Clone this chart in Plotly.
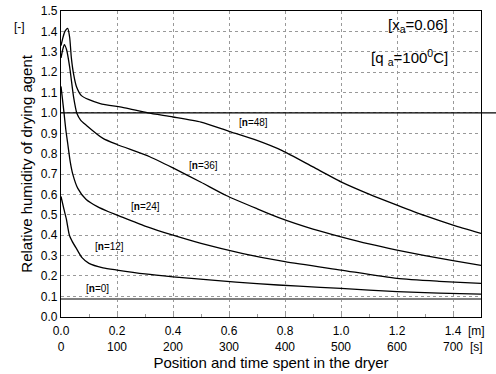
import plotly.graph_objects as go

# ---- data ----
x_n48 = [0, 0.007, 0.014, 0.024, 0.031, 0.037, 0.045, 0.055, 0.073, 0.1, 0.14, 0.228, 0.31, 0.4, 0.5, 0.6, 0.7, 0.79, 0.9, 1.0, 1.1, 1.2, 1.3, 1.4, 1.5]
y_n48 = [1.33, 1.37, 1.40, 1.415, 1.37, 1.27, 1.19, 1.13, 1.085, 1.065, 1.046, 1.025, 1.0, 0.98, 0.955, 0.91, 0.865, 0.815, 0.735, 0.662, 0.602, 0.548, 0.496, 0.45, 0.409]

x_n36 = [0, 0.006, 0.012, 0.02, 0.031, 0.045, 0.057, 0.07, 0.09, 0.15, 0.2, 0.317, 0.4, 0.5, 0.59, 0.7, 0.78, 0.9, 1.0, 1.1, 1.2, 1.3, 1.4, 1.5]
y_n36 = [1.27, 1.31, 1.335, 1.31, 1.225, 1.078, 0.997, 0.965, 0.94, 0.875, 0.845, 0.785, 0.73, 0.66, 0.595, 0.53, 0.485, 0.43, 0.392, 0.357, 0.327, 0.30, 0.275, 0.252]

x_n24 = [0, 0.005, 0.01, 0.017, 0.024, 0.033, 0.042, 0.06, 0.09, 0.13, 0.17, 0.2, 0.3, 0.4, 0.5, 0.65, 0.8, 1.0, 1.2, 1.35, 1.5]
y_n24 = [1.13, 1.07, 1.01, 0.92, 0.85, 0.76, 0.70, 0.63, 0.575, 0.54, 0.515, 0.499, 0.445, 0.40, 0.36, 0.31, 0.27, 0.229, 0.188, 0.174, 0.164]

x_n12 = [0, 0.01, 0.019, 0.03, 0.04, 0.055, 0.075, 0.1, 0.15, 0.2, 0.3, 0.4, 0.55, 0.7, 0.85, 1.0, 1.2, 1.35, 1.5]
y_n12 = [0.59, 0.53, 0.48, 0.40, 0.37, 0.335, 0.29, 0.262, 0.24, 0.229, 0.21, 0.196, 0.178, 0.162, 0.15, 0.139, 0.123, 0.116, 0.111]

x_n0 = [0, 1.5]
y_n0 = [0.087, 0.087]

m_ticks = [0, 0.2, 0.4, 0.6, 0.8, 1.0, 1.2, 1.4]
m_labels = ["0.0", "0.2", "0.4", "0.6", "0.8", "1.0", "1.2", "1.4"]
s_ticks = [0, 100, 200, 300, 400, 500, 600, 700]
s_labels = ["0", "100", "200", "300", "400", "500", "600", "700"]

labels = ["[<b>n</b>=48]", "[<b>n</b>=36]", "[<b>n</b>=24]", "[<b>n</b>=12]", "[<b>n</b>=0]"]
label_x = [0.686, 0.51, 0.301, 0.174, 0.129]
label_y = [0.951, 0.744, 0.543, 0.343, 0.139]

FONT = "Liberation Sans, Arial, sans-serif"

fig = go.Figure()
for xs, ys in [(x_n48, y_n48), (x_n36, y_n36), (x_n24, y_n24), (x_n12, y_n12)]:
    fig.add_trace(go.Scatter(x=xs, y=ys, mode="lines",
                             line=dict(color="black", width=1.3, shape="spline", smoothing=0.6),
                             showlegend=False, hoverinfo="skip"))
fig.add_trace(go.Scatter(x=x_n0, y=y_n0, mode="lines",
                         line=dict(color="#7f7f7f", width=2),
                         showlegend=False, hoverinfo="skip"))
# invisible trace to carry the seconds axis
fig.add_trace(go.Scatter(x=[0, 750], y=[None, None], xaxis="x2", mode="lines",
                         showlegend=False, hoverinfo="skip"))

for t, lx, ly in zip(labels, label_x, label_y):
    fig.add_annotation(x=lx, y=ly, text=t, showarrow=False,
                       font=dict(family=FONT, size=10, color="black"))

fig.add_annotation(x=1.274, y=1.43, text="[x<sub>a</sub>=0.06]", showarrow=False,
                   font=dict(family=FONT, size=15, color="black"))
fig.add_annotation(x=1.245, y=1.273, text="[q <sub>a</sub>=100<sup>0</sup>C]", showarrow=False,
                   font=dict(family=FONT, size=15, color="black"))
fig.add_annotation(xref="paper", yref="paper", x=-0.117, y=0.979, text="[-]", showarrow=False,
                   font=dict(family=FONT, size=12, color="black"))
fig.add_annotation(xref="paper", yref="paper", x=0.99, y=0.022, text="[m]", showarrow=False,
                   xanchor="center", yanchor="middle",
                   font=dict(family=FONT, size=12, color="black"))
fig.add_annotation(xref="paper", yref="paper", x=0.99, y=-0.026, text="[s]", showarrow=False,
                   xanchor="center", yanchor="middle",
                   font=dict(family=FONT, size=12, color="black"))

fig.add_shape(type="line", xref="paper", yref="y", x0=0, x1=1.036, y0=1.0, y1=1.0,
              line=dict(color="black", width=1.3))

fig.update_layout(
    width=496, height=374,
    margin=dict(l=61, r=15, t=11, b=36, autoexpand=False),
    paper_bgcolor="white", plot_bgcolor="white",
    font=dict(family=FONT, size=12, color="black"),
    xaxis=dict(range=[0, 1.5], tickvals=m_ticks, ticktext=m_labels, automargin=False,
               showgrid=True, gridcolor="#999999", griddash="dot", gridwidth=1,
               showline=True, mirror=True, linecolor="black", linewidth=1.3,
               ticks="inside", ticklen=3, tickcolor="#999999", ticklabelstandoff=3,
               minor=dict(dtick=0.1, ticks="inside", ticklen=3, tickcolor="#999999", showgrid=False),
               zeroline=False, tickfont=dict(size=12), anchor="y"),
    xaxis2=dict(range=[0, 750], tickvals=s_ticks, ticktext=s_labels, overlaying="x",
                anchor="free", position=0, side="bottom", showgrid=False, showline=False,
                ticks="", zeroline=False, tickfont=dict(size=12), automargin=False,
                title=dict(text="Position and time spent in the dryer", font=dict(size=15), standoff=0)),
    yaxis=dict(range=[0, 1.5], dtick=0.1, tickformat=".1f", domain=[0.065, 1], automargin=False,
               showgrid=True, gridcolor="#999999", griddash="dot", gridwidth=1,
               showline=True, mirror=True, linecolor="black", linewidth=1.3,
               ticks="", zeroline=False, tickfont=dict(size=12),
               title=dict(text="Relative humidity of drying agent", font=dict(size=15), standoff=4)),
)

fig.write_html("out.html")
